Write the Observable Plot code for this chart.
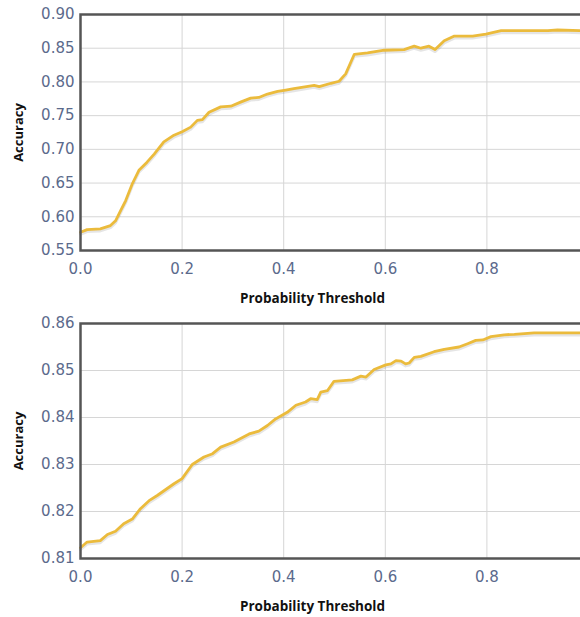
<!DOCTYPE html>
<html>
<head>
<meta charset="utf-8">
<script src="https://cdn.jsdelivr.net/npm/d3@7"></script>
<script src="https://cdn.jsdelivr.net/npm/@observablehq/plot@0.6"></script>
<style>
  html, body { margin: 0; padding: 0; background: #fff; overflow: hidden; width: 580px; height: 617px; }
  #wrap svg { display: block; max-width: none !important; }
</style>
</head>
<body>
<div id="wrap"></div>
<script>
// Top chart
const topThreshold = [0.000,0.013,0.039,0.059,0.069,0.079,0.089,0.102,0.115,0.131,0.145,0.164,0.184,0.200,0.217,0.230,0.240,0.253,0.276,0.296,0.315,0.335,0.351,0.368,0.388,0.404,0.420,0.460,0.470,0.493,0.509,0.522,0.539,0.565,0.598,0.637,0.657,0.670,0.686,0.698,0.716,0.736,0.772,0.798,0.828,0.920,0.939,0.985,1.000];
const topAccuracy  = [0.577,0.581,0.582,0.587,0.594,0.609,0.624,0.649,0.669,0.681,0.693,0.711,0.721,0.726,0.733,0.743,0.744,0.755,0.763,0.764,0.770,0.776,0.777,0.782,0.786,0.788,0.790,0.795,0.793,0.798,0.801,0.812,0.841,0.843,0.847,0.848,0.853,0.850,0.853,0.848,0.861,0.868,0.868,0.871,0.876,0.876,0.877,0.876,0.876];
const topYTicks = [0.55,0.60,0.65,0.70,0.75,0.80,0.85,0.90];

// Bottom chart
const botThreshold = [0.000,0.013,0.039,0.053,0.069,0.085,0.102,0.118,0.135,0.151,0.184,0.200,0.220,0.243,0.260,0.276,0.302,0.332,0.351,0.368,0.384,0.407,0.424,0.443,0.453,0.466,0.473,0.486,0.499,0.535,0.552,0.562,0.578,0.601,0.611,0.621,0.631,0.640,0.647,0.657,0.670,0.696,0.716,0.745,0.762,0.778,0.792,0.808,0.834,0.854,0.893,0.985,1.000];
const botAccuracy  = [0.8123,0.8135,0.8138,0.8151,0.8158,0.8174,0.8184,0.8206,0.8223,0.8234,0.8259,0.8270,0.8300,0.8316,0.8323,0.8337,0.8348,0.8365,0.8371,0.8383,0.8397,0.8411,0.8426,0.8433,0.8440,0.8438,0.8454,0.8457,0.8477,0.8480,0.8488,0.8486,0.8502,0.8512,0.8514,0.8521,0.8520,0.8514,0.8516,0.8528,0.8530,0.8540,0.8545,0.8550,0.8557,0.8564,0.8565,0.8572,0.8576,0.8577,0.8580,0.8580,0.8580];
const botYTicks = [0.81,0.82,0.83,0.84,0.85,0.86];

const xTicks = [0.0,0.2,0.4,0.6,0.8];
const xTickLabels = ["0.0","0.2","0.4","0.6","0.8"];
const xTitle = "Probability Threshold";
const yTitle = "Accuracy";

function chart(xs, ys, yTicks, yDomain, height, plotH) {
  const data = xs.map((x, i) => ({x, y: ys[i]}));
  return Plot.plot({
    width: 588,
    height,
    marginLeft: 80,
    marginRight: 0,
    marginTop: 14,
    marginBottom: height - 14 - plotH,
    style: {background: "#fff", overflow: "visible", maxWidth: "none"},
    x: {domain: [0, 1]},
    y: {domain: yDomain},
    marks: [
      Plot.gridX(xTicks, {stroke: "#d6d6d6", strokeOpacity: 1, strokeWidth: 1}),
      Plot.gridY(yTicks, {stroke: "#d6d6d6", strokeOpacity: 1, strokeWidth: 1}),
      Plot.axisY(yTicks, {
        tickSize: 0, tickPadding: 6,
        tickFormat: d => d.toFixed(2),
        fontSize: 15, fontFamily: "DejaVu Sans", fill: "#5b6a8c",
        label: yTitle, labelAnchor: "center", labelArrow: "none", labelOffset: 67
      }),
      Plot.axisX(xTicks, {
        tickSize: 0, tickPadding: 13,
        tickFormat: (d, i) => xTickLabels[i],
        fontSize: 15, fontFamily: "DejaVu Sans", fill: "#5b6a8c",
        label: null
      }),
      Plot.text([xTitle], {frameAnchor: "bottom", dx: -22, dy: 52, text: d => d,
        fontSize: 13.5, fontWeight: "bold", fontFamily: "Open Sans", fill: "#111"}),
      Plot.line(data, {x: "x", y: "y", stroke: "#000", strokeOpacity: 0.1, strokeWidth: 3, dy: 2, curve: "linear"}),
      Plot.line(data, {x: "x", y: "y", stroke: "#ebbb3c", strokeWidth: 2.8, curve: "linear"}),
      Plot.frame({stroke: "#555", strokeWidth: 2.5})
    ]
  });
}

const wrap = document.getElementById("wrap");
const c1 = chart(topThreshold, topAccuracy, topYTicks, [0.55, 0.90], 309, 236);
const c2 = chart(botThreshold, botAccuracy, botYTicks, [0.81, 0.86], 308, 235);
wrap.appendChild(c1);
wrap.appendChild(c2);
// style y axis label
for (const svg of [c1, c2]) {
  svg.querySelectorAll("text").forEach(t => {
    if (t.textContent === yTitle) {
      t.setAttribute("font-family", "Open Sans");
      t.setAttribute("font-weight", "bold");
      t.setAttribute("font-size", "13");
      t.setAttribute("fill", "#111");
    }
  });
}
</script>
</body>
</html>
